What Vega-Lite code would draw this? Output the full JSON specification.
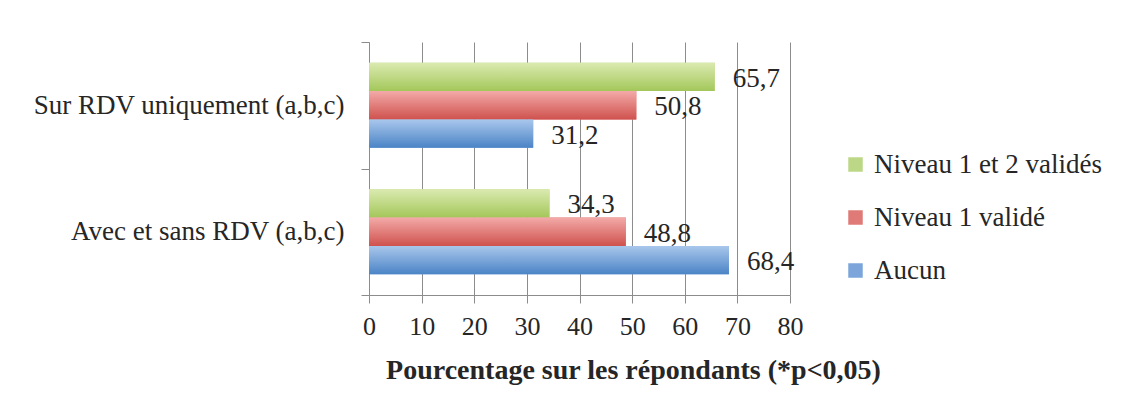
{
  "$schema": "https://vega.github.io/schema/vega-lite/v6.json",
  "width": 421,
  "height": 253,
  "autosize": {"type": "none"},
  "padding": {"left": 369, "top": 42, "right": 345, "bottom": 125},
  "background": "white",
  "data": {
    "values": [
      {"cat": "Sur RDV uniquement (a,b,c)", "serie": "Niveau 1 et 2 validés", "v": 65.7},
      {"cat": "Sur RDV uniquement (a,b,c)", "serie": "Niveau 1 validé", "v": 50.8},
      {"cat": "Sur RDV uniquement (a,b,c)", "serie": "Aucun", "v": 31.2},
      {"cat": "Avec et sans RDV (a,b,c)", "serie": "Niveau 1 et 2 validés", "v": 34.3},
      {"cat": "Avec et sans RDV (a,b,c)", "serie": "Niveau 1 validé", "v": 48.8},
      {"cat": "Avec et sans RDV (a,b,c)", "serie": "Aucun", "v": 68.4}
    ]
  },
  "encoding": {
    "y": {
      "field": "cat", "type": "nominal",
      "sort": ["Sur RDV uniquement (a,b,c)", "Avec et sans RDV (a,b,c)"],
      "scale": {"paddingInner": 0, "paddingOuter": 0},
      "axis": {
        "title": null, "tickBand": "extent", "tickSize": 8, "labelPadding": 17, "labelLimit": 400,
        "domainColor": "#8c8c8c", "tickColor": "#8c8c8c", "grid": false,
        "labelFont": "Liberation Serif", "labelFontSize": 27, "labelColor": "#262626"
      }
    },
    "yOffset": {
      "field": "serie", "type": "nominal",
      "sort": ["Niveau 1 et 2 validés", "Niveau 1 validé", "Aucun"],
      "scale": {"paddingInner": 0, "paddingOuter": 0.735}
    },
    "x": {
      "field": "v", "type": "quantitative",
      "scale": {"domain": [0, 80], "nice": false},
      "axis": {
        "title": "Pourcentage sur les répondants (*p<0,05)",
        "values": [0, 10, 20, 30, 40, 50, 60, 70, 80],
        "tickSize": 8, "labelPadding": 10, "labelFlush": false, "grid": true,
        "gridColor": "#8c8c8c", "domainColor": "#8c8c8c", "tickColor": "#8c8c8c",
        "labelFont": "Liberation Serif", "labelFontSize": 26, "labelColor": "#262626",
        "titleFont": "Liberation Serif", "titleFontSize": 28, "titleFontWeight": "bold",
        "titleColor": "#262626", "titlePadding": 17, "titleX": 264, "titleAlign": "center"
      }
    }
  },
  "layer": [
    {
      "mark": {"type": "bar"},
      "encoding": {
        "color": {
          "field": "serie", "type": "nominal",
          "scale": {
            "domain": ["Niveau 1 et 2 validés", "Niveau 1 validé", "Aucun"],
            "range": ["#bcd886", "#e07a77", "#7ba5db"]
          },
          "legend": {
            "title": null, "orient": "none", "legendX": 473, "legendY": 109,
            "symbolType": "square", "symbolSize": 210, "symbolStrokeWidth": 0,
            "labelFont": "Liberation Serif", "labelFontSize": 27, "labelColor": "#262626",
            "rowPadding": 25, "labelOffset": 5, "labelLimit": 400
          }
        }
      }
    },
    {
      "transform": [{"filter": "datum.serie === 'Niveau 1 et 2 validés'"}],
      "mark": {"type": "bar", "color": {"gradient": "linear", "x1": 0, "y1": 0, "x2": 0, "y2": 1, "stops": [{"offset": 0, "color": "#dbeab0"}, {"offset": 1, "color": "#a3c75a"}]}}
    },
    {
      "transform": [{"filter": "datum.serie === 'Niveau 1 validé'"}],
      "mark": {"type": "bar", "color": {"gradient": "linear", "x1": 0, "y1": 0, "x2": 0, "y2": 1, "stops": [{"offset": 0, "color": "#f3aaa8"}, {"offset": 1, "color": "#cf524e"}]}}
    },
    {
      "transform": [{"filter": "datum.serie === 'Aucun'"}],
      "mark": {"type": "bar", "color": {"gradient": "linear", "x1": 0, "y1": 0, "x2": 0, "y2": 1, "stops": [{"offset": 0, "color": "#a9c7ec"}, {"offset": 1, "color": "#4b84c6"}]}}
    },
    {
      "mark": {"type": "text", "align": "left", "baseline": "middle", "dx": 18, "dy": 2, "font": "Liberation Serif", "fontSize": 27, "color": "#262626"},
      "encoding": {"text": {"field": "v", "type": "quantitative", "format": ".1f"}}
    }
  ],
  "config": {
    "view": {"stroke": null},
    "locale": {"number": {"decimal": ",", "thousands": " ", "grouping": [3], "currency": ["", " €"]}}
  }
}
